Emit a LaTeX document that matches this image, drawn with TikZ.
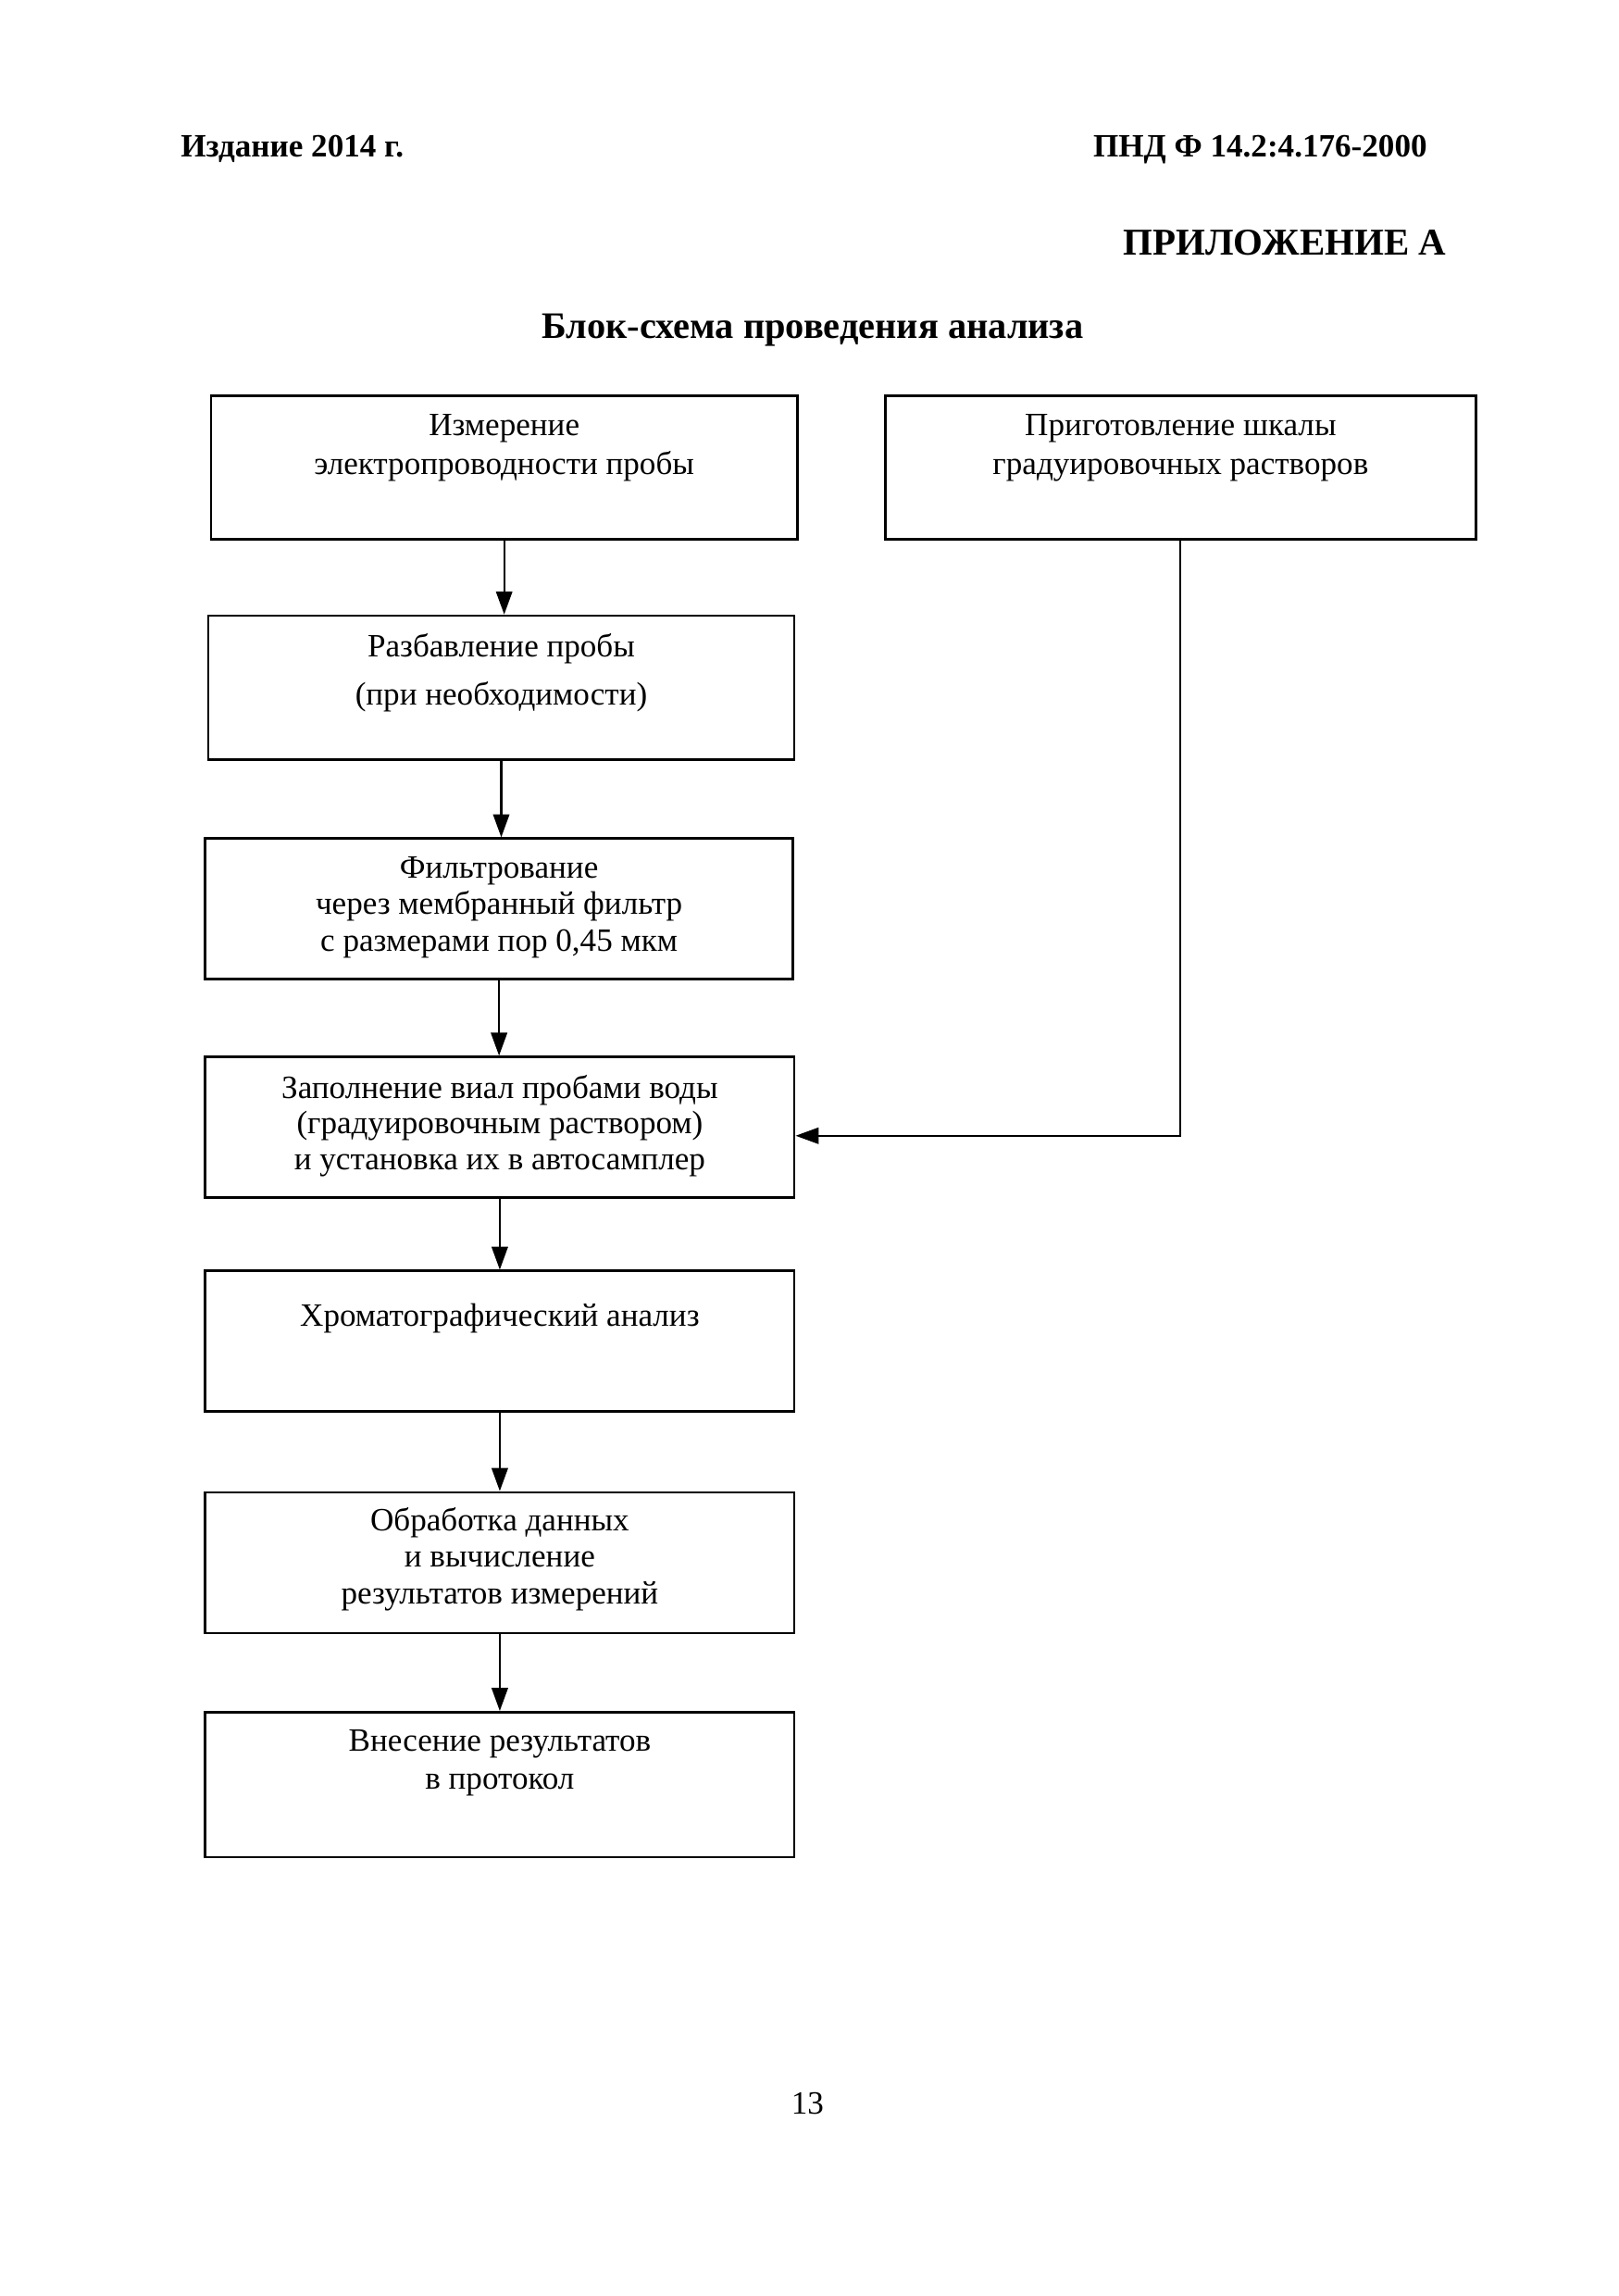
\documentclass[tikz,border=0pt]{standalone}
\usepackage{fontspec}
\setmainfont{Liberation Serif}
\usetikzlibrary{arrows.meta}
\begin{document}
\begin{tikzpicture}[x=0.190217mm,y=-0.190217mm,
  stepbox/.style 2 args={draw,line width=0.9pt,inner sep=0pt,
    minimum width={#1*0.190217mm},minimum height={#2*0.190217mm}},
  txt/.style={align=center,inner sep=0pt,anchor=north},
  arr/.style={line width=0.7pt,-{Triangle[length=8.5pt,width=6pt]}}]
\useasboundingbox[fill=white] (0,0) rectangle (1104,1566.3);
% header
\node[anchor=base west,inner sep=0pt,font=\fontsize{12}{14}\selectfont\bfseries] (hl) at (123,107) {Издание 2014 г.};
\node[anchor=base east,inner sep=0pt,font=\fontsize{12}{14}\selectfont\bfseries] (hr) at (974,107) {ПНД Ф 14.2:4.176-2000};
\node[anchor=base east,inner sep=0pt,font=\fontsize{14}{16}\selectfont\bfseries] (app) at (987,174) {ПРИЛОЖЕНИЕ А};
\node[anchor=base,inner sep=0pt,font=\fontsize{13.8}{16}\selectfont\bfseries] (title) at (554.5,231) {Блок-схема проведения анализа};
% boxes
\node[stepbox={400}{98}] (meas) at (344,319) {};
\node[stepbox={403}{98}] (prep) at (805.5,319) {};
\node[stepbox={400}{98}] (dil) at (342,469) {};
\node[stepbox={401}{96}] (filt) at (340.5,620) {};
\node[stepbox={402}{96}] (fill) at (341,769) {};
\node[stepbox={402}{96}] (chrom) at (341,915) {};
\node[stepbox={402}{96}] (proc) at (341,1066) {};
\node[stepbox={402}{99}] (rep) at (341,1217.5) {};
% texts
\node[txt,font=\fontsize{12}{14.6}\selectfont] (t1) at (344,282) {Измерение\\электропроводности пробы};
\node[txt,font=\fontsize{12}{14.6}\selectfont] (t2) at (805.5,282) {Приготовление шкалы\\градуировочных растворов};
\node[txt,font=\fontsize{12}{17.8}\selectfont] (t3) at (342,432) {Разбавление пробы\\(при необходимости)};
\node[txt,font=\fontsize{12}{13.5}\selectfont] (t4) at (340.5,584) {Фильтрование\\через мембранный фильтр\\с размерами пор 0,45 мкм};
\node[txt,font=\fontsize{12}{13.2}\selectfont] (t5) at (341,733) {Заполнение виал пробами воды\\(градуировочным раствором)\\и установка их в автосамплер};
\node[txt,font=\fontsize{12}{13.2}\selectfont] (t6) at (341,889) {Хроматографический анализ};
\node[txt,font=\fontsize{12}{13.5}\selectfont] (t7) at (341,1028) {Обработка данных\\и вычисление\\результатов измерений};
\node[txt,font=\fontsize{12}{14.0}\selectfont] (t8) at (341,1180) {Внесение результатов\\в протокол};
% page number
\node[anchor=base,inner sep=0pt,font=\fontsize{12}{14}\selectfont] (pg) at (551,1442) {13};
% connectors
\draw[arr] (meas.south) -- (meas.south |- dil.north);
\draw[arr] (dil.south) -- (dil.south |- filt.north);
\draw[arr] (filt.south) -- (filt.south |- fill.north);
\draw[arr] (fill.south) -- (fill.south |- chrom.north);
\draw[arr] (chrom.south) -- (chrom.south |- proc.north);
\draw[arr] (proc.south) -- (proc.south |- rep.north);
\draw[arr] (prep.south) |- ([yshift=-1.1mm]fill.east);
\end{tikzpicture}
\end{document}
